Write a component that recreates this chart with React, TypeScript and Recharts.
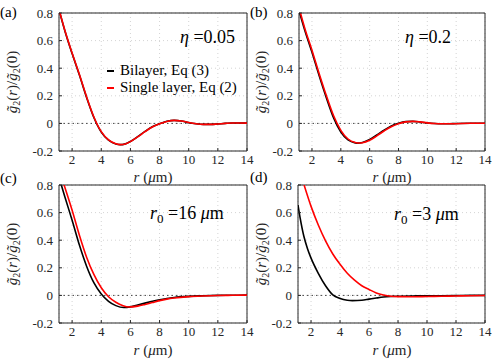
import React from 'react';
import {
  LineChart,
  Line,
  XAxis,
  YAxis,
  CartesianGrid,
  ReferenceLine,
  ReferenceArea,
  Legend,
} from 'recharts';

const serif = "'Liberation Serif', 'Times New Roman', Tinos, 'DejaVu Serif', serif";
const ink = '#262626';

const xTicks = [2, 4, 6, 8, 10, 12, 14];
const yTicks = [-0.2, 0, 0.2, 0.4, 0.6, 0.8];
const xMin = 1.1;
const xMax = 14;

// (a) eta = 0.05
const aSingleR = [1.17, 1.5, 2, 2.5, 3, 3.5, 4, 4.5, 5, 5.3, 5.6, 6, 6.5, 7, 7.5, 8, 8.5, 9, 9.5, 10, 10.5, 11, 11.5, 12, 12.5, 13, 13.5, 14];
const aSingleG = [0.8, 0.675, 0.51, 0.355, 0.19, 0.045, -0.06, -0.12, -0.148, -0.154, -0.151, -0.132, -0.098, -0.06, -0.026, -0.003, 0.014, 0.022, 0.018, 0.006, -0.003, -0.007, -0.007, -0.004, 0, 0.003, 0.003, 0.002];
const aBilayerR = [1.16, 1.5, 2, 2.5, 3, 3.5, 4, 4.5, 5, 5.3, 5.6, 6, 6.5, 7, 7.5, 8, 8.5, 9, 9.5, 10, 10.5, 11, 11.5, 12, 12.5, 13, 13.5, 14];
const aBilayerG = [0.8, 0.672, 0.506, 0.35, 0.186, 0.041, -0.063, -0.122, -0.149, -0.154, -0.15, -0.131, -0.096, -0.058, -0.024, -0.002, 0.015, 0.022, 0.018, 0.005, -0.003, -0.007, -0.007, -0.004, 0, 0.003, 0.003, 0.002];

// (b) eta = 0.2
const bSingleR = [1.2, 1.5, 2, 2.5, 3, 3.5, 4, 4.5, 5, 5.25, 5.5, 6, 6.5, 7, 7.5, 8, 8.5, 9, 9.5, 10, 10.5, 11, 11.5, 12, 13, 14];
const bSingleG = [0.8, 0.69, 0.53, 0.36, 0.2, 0.055, -0.05, -0.113, -0.138, -0.142, -0.14, -0.122, -0.09, -0.055, -0.024, -0.002, 0.011, 0.015, 0.011, 0.004, -0.001, -0.003, -0.003, -0.002, 0.001, 0.001];
const bBilayerR = [1.15, 1.5, 2, 2.5, 3, 3.5, 4, 4.5, 5, 5.2, 5.5, 6, 6.5, 7, 7.5, 8, 8.5, 9, 9.5, 10, 10.5, 11, 11.5, 12, 13, 14];
const bBilayerG = [0.8, 0.675, 0.515, 0.345, 0.185, 0.04, -0.062, -0.12, -0.141, -0.143, -0.138, -0.117, -0.084, -0.049, -0.019, 0.001, 0.013, 0.015, 0.01, 0.003, -0.001, -0.003, -0.003, -0.001, 0.001, 0.001];

// (c) r0 = 16 um
const cSingleR = [1.45, 2, 2.5, 3, 3.5, 4, 4.5, 5, 5.5, 5.9, 6.5, 7, 7.5, 8, 8.5, 9, 10, 11, 12, 13, 14];
const cSingleG = [0.8, 0.617, 0.436, 0.275, 0.15, 0.055, -0.01, -0.05, -0.075, -0.084, -0.078, -0.066, -0.052, -0.038, -0.027, -0.019, -0.009, -0.004, -0.001, 0.001, 0.002];
const cBilayerR = [1.26, 1.5, 2, 2.5, 3, 3.5, 4, 4.5, 5, 5.55, 6, 6.5, 7, 7.5, 8, 8.5, 9, 10, 11, 12, 13, 14];
const cBilayerG = [0.8, 0.715, 0.545, 0.365, 0.21, 0.09, 0.01, -0.043, -0.074, -0.088, -0.083, -0.07, -0.056, -0.043, -0.031, -0.022, -0.015, -0.007, -0.003, 0, 0.001, 0.002];

// (d) r0 = 3 um
const dSingleR = [1.52, 2, 2.5, 3, 3.5, 4, 4.5, 5, 5.5, 6, 6.5, 7, 7.5, 8, 9, 10, 11, 12, 13, 14];
const dSingleG = [0.8, 0.645, 0.51, 0.395, 0.3, 0.225, 0.16, 0.11, 0.07, 0.043, 0.018, 0.003, -0.006, -0.009, -0.01, -0.008, -0.006, -0.004, -0.002, -0.001];
const dBilayerR = [1.1, 1.25, 1.5, 1.75, 2, 2.5, 3, 3.5, 4, 4.5, 4.85, 5.5, 6, 6.5, 7, 7.5, 8, 9, 10, 11, 12, 13, 14];
const dBilayerG = [0.655, 0.56, 0.43, 0.34, 0.27, 0.16, 0.07, 0.004, -0.022, -0.035, -0.038, -0.035, -0.027, -0.019, -0.012, -0.008, -0.006, -0.004, -0.003, -0.002, -0.001, 0, 0];

const zip = (r: number[], g: number[]) => r.map((v, i) => ({ r: v, g: g[i] }));

const LegendBox = ({ payload }: any) => (
  <div style={{ fontFamily: serif, fontSize: 15, color: '#000' }}>
    {(payload || []).map((p: any) => (
      <div key={p.value} style={{ display: 'flex', alignItems: 'center', height: 17, whiteSpace: 'nowrap' }}>
        <span style={{ display: 'inline-block', width: 7, height: 2, background: p.color, marginRight: 6 }} />
        <span>{p.value}</span>
      </div>
    ))}
  </div>
);

interface PanelProps {
  left: number;
  top: number;
  width: number;
  right: number;
  yAxisWidth: number;
  bilayer: { r: number; g: number }[];
  single: { r: number; g: number }[];
  showLegend?: boolean;
}

function Panel({ left, top, width, right, yAxisWidth, bilayer, single, showLegend }: PanelProps) {
  const tickStyle = { fontFamily: serif, fontSize: 13, fill: ink };
  return (
    <div style={{ position: 'absolute', left, top }}>
      <LineChart width={width} height={175} margin={{ top: 13, right, bottom: 0, left: 0 }}>
        <CartesianGrid strokeDasharray="1 3" stroke="#d4d4d4" />
        <XAxis
          type="number"
          dataKey="r"
          domain={[xMin, xMax]}
          ticks={xTicks}
          allowDataOverflow
          height={24}
          axisLine={false}
          tickSize={-3}
          tickMargin={7}
          tickLine={{ stroke: ink }}
          tick={tickStyle}
        />
        <YAxis
          type="number"
          domain={[-0.2, 0.8]}
          ticks={yTicks}
          allowDataOverflow
          width={yAxisWidth}
          axisLine={false}
          tickSize={-3}
          tickMargin={9}
          tickLine={{ stroke: ink }}
          tick={tickStyle}
          tickFormatter={(v: number) => String(v)}
        />
        <ReferenceLine y={0} stroke="#444" strokeDasharray="1.5 3" />
        <Line
          data={bilayer}
          dataKey="g"
          name="Bilayer, Eq (3)"
          type="monotone"
          stroke="#000000"
          strokeWidth={1.6}
          dot={false}
          isAnimationActive={false}
        />
        <Line
          data={single}
          dataKey="g"
          name="Single layer, Eq (2)"
          type="monotone"
          stroke="#ff0000"
          strokeWidth={1.6}
          dot={false}
          isAnimationActive={false}
        />
        <ReferenceArea x1={xMin} x2={xMax} y1={-0.2} y2={0.8} fill="none" fillOpacity={0} stroke={ink} strokeWidth={1} />
        {showLegend && (
          <Legend
            layout="vertical"
            align="center"
            verticalAlign="middle"
            content={<LegendBox />}
            wrapperStyle={{ position: 'absolute', left: 107, top: 62, width: 'auto' }}
          />
        )}
      </LineChart>
    </div>
  );
}

const YLabel = ({ x, y }: { x: number; y: number }) => (
  <div
    style={{
      position: 'absolute',
      left: x,
      top: y,
      transform: 'translate(-50%, -50%) rotate(-90deg)',
      whiteSpace: 'nowrap',
      fontFamily: serif,
      fontSize: 15,
      color: ink,
      lineHeight: 1,
    }}
  >
    <i>g&#x0303;</i>
    <span style={{ fontSize: 10, position: 'relative', top: 3 }}>2</span>(<i>r</i>)/<i>g&#x0303;</i>
    <span style={{ fontSize: 10, position: 'relative', top: 3 }}>2</span>(0)
  </div>
);

const XLabel = ({ x, y }: { x: number; y: number }) => (
  <div
    style={{
      position: 'absolute',
      left: x,
      top: y,
      transform: 'translate(-50%, -50%)',
      whiteSpace: 'nowrap',
      fontFamily: serif,
      fontSize: 15,
      color: ink,
      lineHeight: 1,
    }}
  >
    <i>r</i> (<i>μ</i>m)
  </div>
);

const Tag = ({ x, y, text }: { x: number; y: number; text: string }) => (
  <div style={{ position: 'absolute', left: x, top: y, transform: 'translateY(-50%)', fontFamily: serif, fontSize: 15, color: '#000', lineHeight: 1 }}>
    {text}
  </div>
);

const Note = ({ x, y, children }: { x: number; y: number; children: React.ReactNode }) => (
  <div style={{ position: 'absolute', left: x, top: y, transform: 'translateY(-50%)', fontFamily: serif, fontSize: 18, color: '#000', whiteSpace: 'nowrap', lineHeight: 1 }}>
    {children}
  </div>
);

export default function App() {
  return (
    <div style={{ position: 'fixed', left: 0, top: 0, width: 498, height: 363, background: '#fff', overflow: 'hidden' }}>
      <Panel left={0} top={0} width={262} right={15} yAxisWidth={59} bilayer={zip(aBilayerR, aBilayerG)} single={zip(aSingleR, aSingleG)} showLegend />
      <Panel left={249} top={0} width={249} right={13} yAxisWidth={50} bilayer={zip(bBilayerR, bBilayerG)} single={zip(bSingleR, bSingleG)} />
      <Panel left={0} top={172} width={262} right={15} yAxisWidth={59} bilayer={zip(cBilayerR, cBilayerG)} single={zip(cSingleR, cSingleG)} />
      <Panel left={249} top={172} width={249} right={13} yAxisWidth={49} bilayer={zip(dBilayerR, dBilayerG)} single={zip(dSingleR, dSingleG)} />

      <YLabel x={12} y={82} />
      <YLabel x={261} y={82} />
      <YLabel x={12} y={254} />
      <YLabel x={261} y={254} />

      <XLabel x={153} y={177} />
      <XLabel x={392} y={177} />
      <XLabel x={153} y={350} />
      <XLabel x={392} y={350} />

      <Tag x={0} y={12} text="(a)" />
      <Tag x={250} y={12} text="(b)" />
      <Tag x={0} y={178} text="(c)" />
      <Tag x={250} y={177} text="(d)" />

      <Note x={180} y={37}>
        <i>η</i> =0.05
      </Note>
      <Note x={405} y={37}>
        <i>η</i> =0.2
      </Note>
      <Note x={150} y={213}>
        <i>r</i>
        <span style={{ fontSize: 13, position: 'relative', top: 4 }}>0</span> =16 <i>μ</i>m
      </Note>
      <Note x={394} y={214}>
        <i>r</i>
        <span style={{ fontSize: 13, position: 'relative', top: 4 }}>0</span> =3 <i>μ</i>m
      </Note>
    </div>
  );
}
